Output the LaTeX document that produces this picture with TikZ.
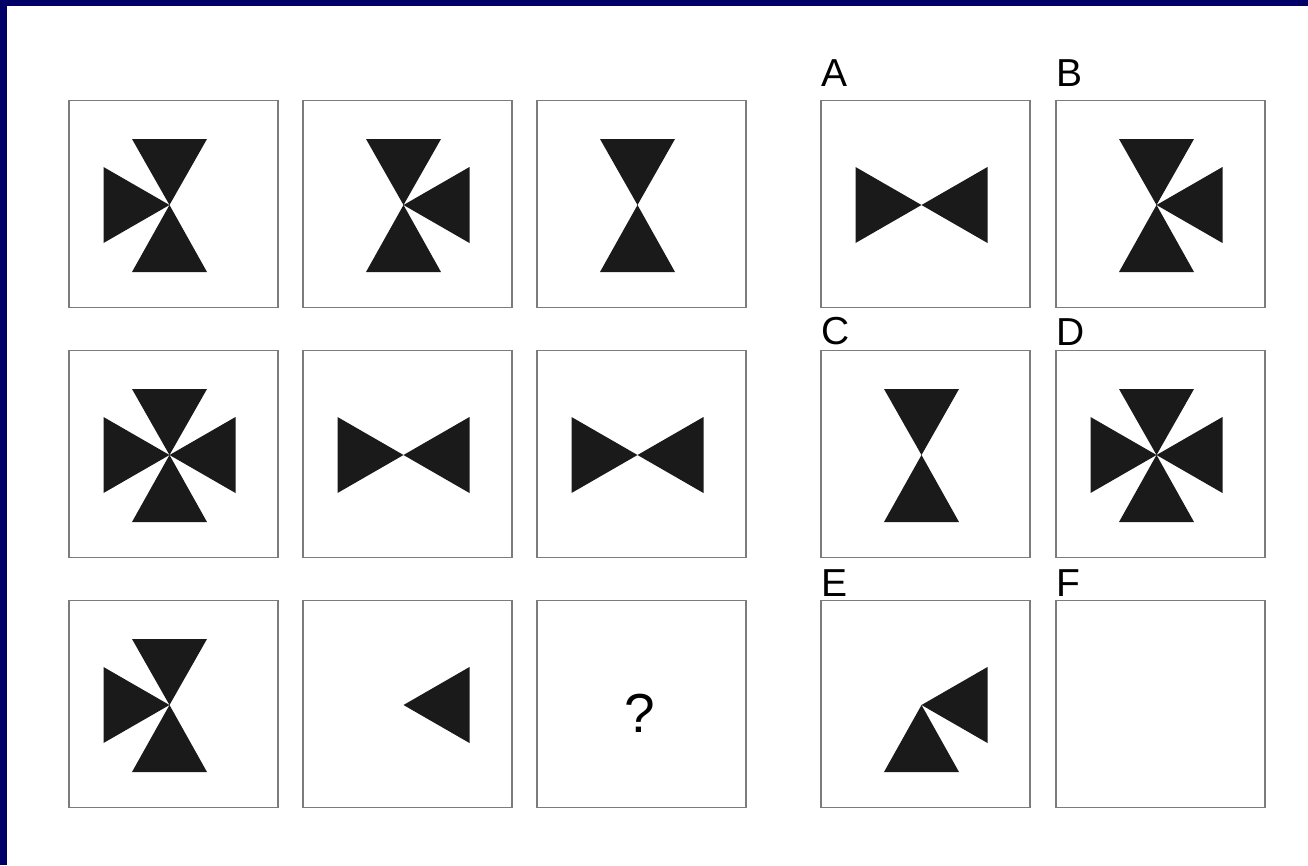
\documentclass[tikz,border=0pt]{standalone}
\usepackage{fontspec}
\setmainfont{Liberation Sans}
\definecolor{navyrand}{HTML}{000066}
\definecolor{rahmengrau}{HTML}{7C7C7C}
\definecolor{dreieck}{HTML}{1A1A1A}
\usetikzlibrary{positioning}

\begin{document}
\begin{tikzpicture}[
    x=1pt, y=-1pt,
    node distance=43pt and 25pt,
    feld/.style={rectangle, draw=rahmengrau, line width=1.8pt, fill=white,
                 minimum width=209pt, minimum height=207pt, inner sep=0pt,
                 outer sep=0pt},
    buchst/.style={font=\fontsize{39}{39}\selectfont, inner sep=0pt,
                   anchor=south west},
    dreieckfill/.style={fill=dreieck, draw=none},
    pics/tri top/.style={code={\fill[dreieckfill] (0,0) -- (-37.5,-66) -- (37.5,-66) -- cycle;}},
    pics/tri bottom/.style={code={\fill[dreieckfill] (0,0) -- (-37.5,67) -- (37.5,67) -- cycle;}},
    pics/tri left/.style={code={\fill[dreieckfill] (0,0) -- (-66,-38) -- (-66,38) -- cycle;}},
    pics/tri right/.style={code={\fill[dreieckfill] (0,0) -- (66,-38) -- (66,38) -- cycle;}}
  ]
  \useasboundingbox (0,0) rectangle (1308,865);
  \fill[navyrand] (0,0) rectangle (1308,6);
  \fill[navyrand] (0,0) rectangle (7,865);

  % Matrix links
  \node[feld] at (173.5,204) (q1) {};
  \node[feld, right=of q1] (q2) {};
  \node[feld, right=of q2] (q3) {};
  \node[feld, below=of q1] (q4) {};
  \node[feld, right=of q4] (q5) {};
  \node[feld, right=of q5] (q6) {};
  \node[feld, below=of q4] (q7) {};
  \node[feld, right=of q7] (q8) {};
  \node[feld, right=of q8] (q9) {};

  % Antworten rechts
  \node[feld, right=75pt of q3] (optA) {};
  \node[feld, right=26pt of optA] (optB) {};
  \node[feld, below=of optA] (optC) {};
  \node[feld, right=26pt of optC] (optD) {};
  \node[feld, below=of optC] (optE) {};
  \node[feld, right=26pt of optE] (optF) {};

  \foreach \f/\teile in {q1/{top,bottom,left}, q2/{top,bottom,right},
      q3/{top,bottom}, q4/{top,bottom,left,right}, q5/{left,right},
      q6/{left,right}, q7/{top,bottom,left}, q8/{right},
      optA/{left,right}, optB/{top,bottom,right}, optC/{top,bottom},
      optD/{top,bottom,left,right}, optE/{bottom,right}}
    \foreach \t in \teile
      \pic at ([shift={(-4,1)}]\f.center) {tri \t};

  \node[font=\fontsize{55}{55}\selectfont, inner sep=0pt, anchor=south]
    at ([shift={(-2,29)}]q9.center) (frage) {?};

  \node[buchst] at ([yshift=14pt]optA.north west) (labA) {A};
  \node[buchst] at ([yshift=14pt]optB.north west) (labB) {B};
  \node[buchst] at ([yshift=5pt]optC.north west) (labC) {C};
  \node[buchst] at ([yshift=5pt]optD.north west) (labD) {D};
  \node[buchst] at ([yshift=4pt]optE.north west) (labE) {E};
  \node[buchst] at ([yshift=4pt]optF.north west) (labF) {F};
\end{tikzpicture}
\end{document}
